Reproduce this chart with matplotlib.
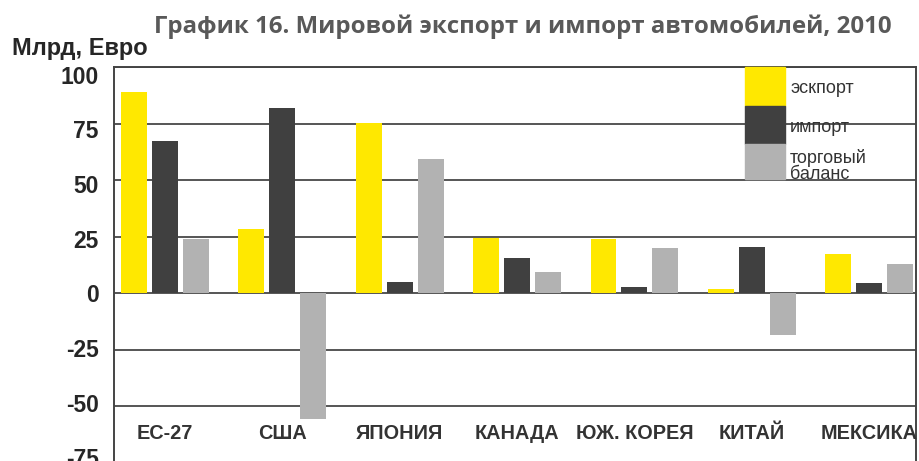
import matplotlib
matplotlib.use("Agg")
import matplotlib.pyplot as plt
from matplotlib.patches import Rectangle
from matplotlib.transforms import ScaledTranslation
import numpy as np

countries = ["ЕС-27", "США", "ЯПОНИЯ", "КАНАДА", "ЮЖ. КОРЕЯ", "КИТАЙ", "МЕКСИКА"]
export = [89, 28.5, 75.2, 24.4, 23.9, 1.8, 17.4]
imports = [67.2, 82, 4.9, 15.5, 2.7, 20.4, 4.6]
balance = [24.2, -55.4, 59.4, 9.5, 20.1, -18.6, 12.9]
series_names = ["эскпорт", "импорт", "торговый\nбаланс"]
colors = ["#FFE800", "#404040", "#B2B2B2"]
yticks = [-75, -50, -25, 0, 25, 50, 75, 100]

fig = plt.figure(figsize=(9.19, 4.61), dpi=100)
# plot area runs off the bottom of the picture, like the original
ax = fig.add_axes([114/919, -2/461, 802/919, 396/461])

x = np.arange(len(countries))
w = 0.22
step = 0.264
for k, vals in enumerate([export, imports, balance]):
    ax.bar(x + (k - 1) * step, vals, width=w, color=colors[k], zorder=3)

ax.set_xlim(-0.435, 6.40)
ax.set_ylim(-75, 100)
ax.set_yticks(yticks)
ax.set_yticklabels([str(t) for t in yticks], fontsize=16.5, fontweight="bold",
                   family="Liberation Sans", color="#262626")
ax.tick_params(axis="y", length=0, pad=11)
# in the original the labels are packed a bit tighter than the grid lines
for lab, t in zip(ax.get_yticklabels(), yticks):
    lab.set_transform(lab.get_transform() + ScaledTranslation(0, -t * 0.00076, fig.dpi_scale_trans))
ax.set_xticks([])
ax.grid(axis="y", color="#555555", linewidth=1.4, zorder=1)
for s in ["left", "right", "top"]:
    ax.spines[s].set_color("#444444")
    ax.spines[s].set_linewidth(1.4)
ax.spines["bottom"].set_visible(False)

# category names inside the plot, near the bottom
for i, c in enumerate(countries):
    ax.text(x[i], -62, c, ha="center", va="center", fontsize=14.3,
            fontweight="bold", family="Liberation Sans", color="#333333")

# legend drawn as boxes at upper right
box_y = [(67, 106), (106, 144), (144, 179)]
for k in range(3):
    y0, y1 = box_y[k]
    ax.add_patch(Rectangle(((745 - 114) / 802, (463 - y1) / 396), 40 / 802, (y1 - y0) / 396,
                           transform=ax.transAxes, color=colors[k], zorder=4, clip_on=False))
ax.text((790 - 114) / 802, (463 - 88) / 396, series_names[0], transform=ax.transAxes,
        va="center", fontsize=13, family="Liberation Sans", color="#333333", zorder=5)
ax.text((790 - 114) / 802, (463 - 127) / 396, series_names[1], transform=ax.transAxes,
        va="center", fontsize=13, family="Liberation Sans", color="#333333", zorder=5)
ax.text((790 - 114) / 802, (463 - 166) / 396, series_names[2], transform=ax.transAxes,
        va="center", fontsize=13, family="Liberation Sans", color="#333333", zorder=5,
        linespacing=0.95)

fig.text(523/919, 1 - 27/461, "График 16. Мировой экспорт и импорт автомобилей, 2010",
         ha="center", va="center", fontsize=17.3, fontweight="bold", family="Open Sans",
         color="#595959")
fig.text(12/919, 1 - 49/461, "Млрд, Евро", ha="left", va="center", fontsize=17,
         fontweight="bold", family="Liberation Sans", color="#262626")

fig.savefig("out.png", dpi=100)
